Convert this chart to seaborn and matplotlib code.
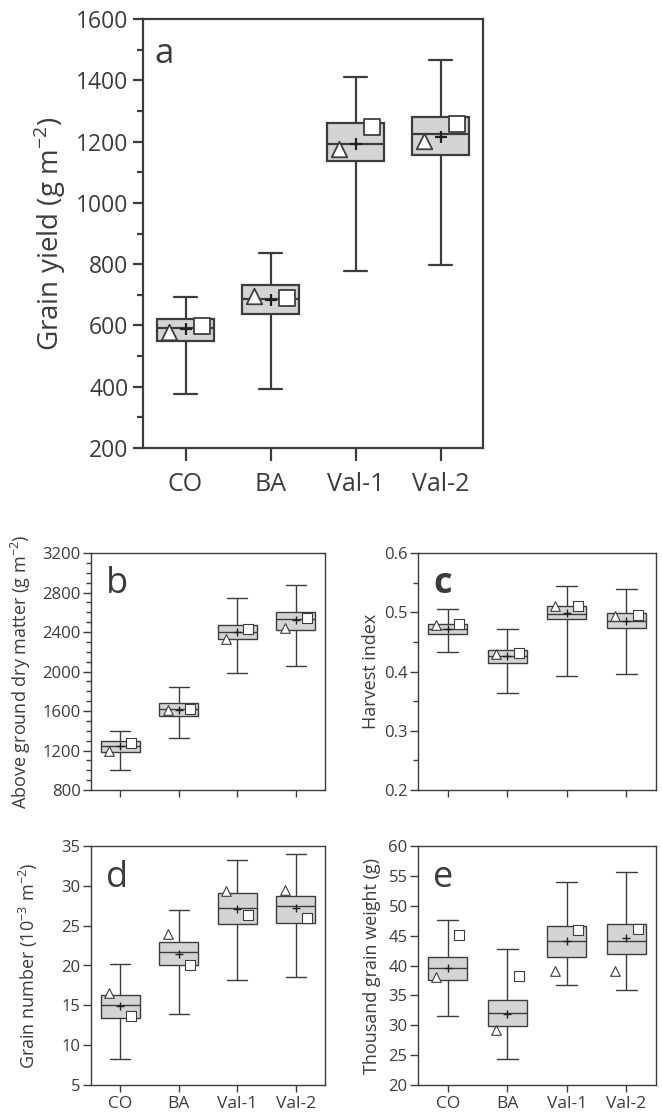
import numpy as np
import pandas as pd
import matplotlib
matplotlib.use("Agg")
import matplotlib.pyplot as plt
import seaborn as sns
from matplotlib.ticker import MultipleLocator, NullLocator

# =========================
# DATA
# =========================
groups = ["CO", "BA", "Val-1", "Val-2"]

# a: grain yield (g m-2)
gy_min = [375, 393, 779, 798]
gy_q1 = [550, 637, 1135, 1156]
gy_med = [590, 686, 1193, 1225]
gy_q3 = [620, 733, 1259, 1279]
gy_max = [692, 836, 1411, 1466]
gy_mean = [588, 684, 1192, 1216]
gy_tri = [578, 695, 1175, 1203]
gy_sq = [598, 690, 1249, 1257]

# b: above ground dry matter (g m-2)
dm_min = [1003, 1323, 1987, 2057]
dm_q1 = [1185, 1549, 2334, 2425]
dm_med = [1245, 1616, 2401, 2533]
dm_q3 = [1296, 1680, 2472, 2603]
dm_max = [1400, 1845, 2742, 2880]
dm_mean = [1245, 1609, 2400, 2519]
dm_tri = [1198, 1610, 2327, 2445]
dm_sq = [1272, 1616, 2435, 2543]

# c: harvest index
hi_min = [0.433, 0.363, 0.393, 0.395]
hi_q1 = [0.463, 0.415, 0.488, 0.473]
hi_med = [0.471, 0.427, 0.497, 0.485]
hi_q3 = [0.480, 0.436, 0.511, 0.498]
hi_max = [0.506, 0.471, 0.544, 0.539]
hi_mean = [0.472, 0.426, 0.498, 0.485]
hi_tri = [0.479, 0.429, 0.510, 0.493]
hi_sq = [0.481, 0.431, 0.511, 0.495]

# d: grain number (10-3 m-2)
gn_min = [8.3, 13.9, 18.2, 18.5]
gn_q1 = [13.4, 20.1, 25.2, 25.3]
gn_med = [15.1, 21.7, 27.2, 27.5]
gn_q3 = [16.3, 23.0, 29.1, 28.7]
gn_max = [20.2, 27.0, 33.3, 34.0]
gn_mean = [14.9, 21.5, 27.1, 27.2]
gn_tri = [16.5, 24.0, 29.3, 29.5]
gn_sq = [13.7, 20.0, 26.3, 25.9]

# e: thousand grain weight (g)
tgw_min = [31.5, 24.3, 36.7, 35.9]
tgw_q1 = [37.5, 29.8, 41.4, 42.0]
tgw_med = [39.5, 32.0, 44.1, 44.1]
tgw_q3 = [41.4, 34.2, 46.6, 46.9]
tgw_max = [47.6, 42.7, 54.0, 55.6]
tgw_mean = [39.5, 31.9, 44.1, 44.6]
tgw_tri = [38.1, 29.2, 39.1, 39.1]
tgw_sq = [45.1, 38.2, 46.0, 46.1]

# =========================
# STYLE
# =========================
sns.set_style("white")
plt.rcParams["font.family"] = ["Open Sans", "DejaVu Sans"]
plt.rcParams["mathtext.fontset"] = "custom"
dark = "#3c3c3c"
box_fill = "#d4d4d4"

W, H = 662, 1113
fig = plt.figure(figsize=(W / 100, H / 100), dpi=100)


def rect(left, top, right, bottom):
    return [left / W, 1 - bottom / H, (right - left) / W, (bottom - top) / H]


def draw_panel(ax, mins, q1, med, q3, maxs, mean, tri, sq, big=False, cap=0.35, msz=50, plus=20):
    lw = 1.6 if big else 1.0
    df = pd.DataFrame({
        "group": np.repeat(groups, 5),
        "value": np.column_stack([mins, q1, med, q3, maxs]).ravel(),
    })
    sns.boxplot(data=df, x="group", y="value", order=groups, whis=(0, 100),
                width=0.66, color=box_fill, linecolor=dark, linewidth=lw,
                saturation=1, showfliers=False, capwidths=cap, ax=ax)
    pos = np.arange(len(groups))
    ax.scatter(pos - 0.19, tri, marker="^", s=msz, facecolor="white",
               edgecolor=dark, linewidth=lw * 0.8, zorder=5)
    ax.scatter(pos + 0.19, sq, marker="s", s=msz, facecolor="white",
               edgecolor=dark, linewidth=lw * 0.8, zorder=5)
    ax.scatter(pos, mean, marker="+", s=plus, color="#202020",
               linewidth=lw, zorder=6)
    ax.set_xlim(-0.5, 3.5)
    ax.set_xlabel("")
    for sp in ax.spines.values():
        sp.set_visible(True)
        sp.set_color(dark)
        sp.set_linewidth(lw)
    ax.tick_params(axis="both", which="both", direction="out", colors=dark,
                   left=True, bottom=True, width=lw)


# =========================
# PANEL a
# =========================
ax_a = fig.add_axes(rect(143, 19, 483, 448))
draw_panel(ax_a, gy_min, gy_q1, gy_med, gy_q3, gy_max, gy_mean, gy_tri, gy_sq,
           big=True, cap=0.28, msz=125, plus=75)
ax_a.set_ylim(200, 1600)
ax_a.yaxis.set_major_locator(MultipleLocator(200))
ax_a.yaxis.set_minor_locator(MultipleLocator(100))
ax_a.tick_params(axis="y", which="major", length=7.5, labelsize=16.5, pad=3)
ax_a.tick_params(axis="y", which="minor", length=4.5)
ax_a.tick_params(axis="x", length=9, labelsize=18, pad=8)
ax_a.set_ylabel(r"Grain yield (g m$^{\mathregular{ -2}}$)", fontsize=20, color=dark)
ax_a.yaxis.set_label_coords(-0.22, 0.5)
ax_a.text(0.032, 0.897, "a", transform=ax_a.transAxes, fontsize=25,
          color=dark, va="baseline", ha="left")

# =========================
# SMALL PANELS
# =========================
small = [
    ("b", rect(91, 553, 325, 790), (dm_min, dm_q1, dm_med, dm_q3, dm_max, dm_mean, dm_tri, dm_sq),
     (800, 3200), 400, 100, r"Above ground dry matter (g m$^{\mathregular{ -2}}$)", -0.248, False),
    ("c", rect(418, 553, 656, 790), (hi_min, hi_q1, hi_med, hi_q3, hi_max, hi_mean, hi_tri, hi_sq),
     (0.2, 0.6), 0.1, 0.05, "Harvest index", -0.16, False),
    ("d", rect(91, 846, 325, 1085), (gn_min, gn_q1, gn_med, gn_q3, gn_max, gn_mean, gn_tri, gn_sq),
     (5, 35), 5, None, r"Grain number (10$^{\mathregular{ -3}}$ m$^{\mathregular{ -2}}$)", -0.218, True),
    ("e", rect(418, 846, 656, 1085), (tgw_min, tgw_q1, tgw_med, tgw_q3, tgw_max, tgw_mean, tgw_tri, tgw_sq),
     (20, 60), 5, None, "Thousand grain weight (g)", -0.155, True),
]

for letter, r, vals, ylim, major, minor, ylabel, lx, xlabels in small:
    ax = fig.add_axes(r)
    draw_panel(ax, *vals, cap=0.35, msz=48, plus=28)
    ax.set_ylim(*ylim)
    ax.yaxis.set_major_locator(MultipleLocator(major))
    if minor:
        ax.yaxis.set_minor_locator(MultipleLocator(minor))
    else:
        ax.yaxis.set_minor_locator(NullLocator())
    ax.tick_params(axis="y", which="major", length=6, labelsize=12, pad=1.5)
    ax.tick_params(axis="y", which="minor", length=3.5)
    ax.tick_params(axis="x", length=5, labelsize=12.5, pad=3, labelbottom=xlabels)
    ax.set_ylabel(ylabel, fontsize=13, color=dark)
    ax.yaxis.set_label_coords(lx, 0.5)
    ax.text(0.064, 0.83, letter, transform=ax.transAxes, fontsize=26,
            color=dark, va="baseline", ha="left",
            fontweight="bold" if letter == "c" else "normal")

fig.savefig("out.png", dpi=100)
